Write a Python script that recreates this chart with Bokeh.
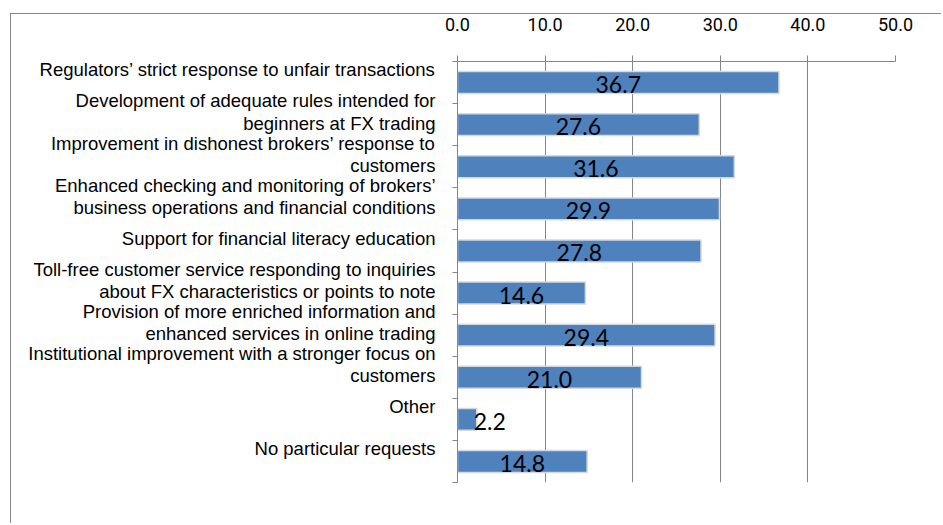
from bokeh.plotting import figure
from bokeh.models import Range1d, FixedTicker, NumeralTickFormatter, ColumnDataSource
from bokeh.core.properties import value
from bokeh.embed import file_html
from bokeh.resources import INLINE

categories = [
    "Regulators\u2019 strict response to unfair transactions",
    "Development of adequate rules intended for\nbeginners at FX trading",
    "Improvement in dishonest brokers\u2019 response to\ncustomers",
    "Enhanced checking and monitoring of brokers\u2019\nbusiness operations and financial conditions",
    "Support for financial literacy education",
    "Toll-free customer service responding to inquiries\nabout FX characteristics or points to note",
    "Provision of more enriched information and\nenhanced services in online trading",
    "Institutional improvement with a stronger focus on\ncustomers",
    "Other",
    "No particular requests",
]
values = [36.7, 27.6, 31.6, 29.9, 27.8, 14.6, 29.4, 21.0, 2.2, 14.8]
x_ticks = [0, 10, 20, 30, 40, 50]

n = len(categories)
SHIFT = 0.3  # bars sit below their label line
GRAY = "#868686"

idx = list(range(n))
bar_y = [i + SHIFT for i in idx]
inside = [v >= 5 for v in values]
lab_x = [v / 2 if ok else v for v, ok in zip(values, inside)]
lab_align = ["center" if ok else "left" for ok in inside]
lab_off = [0 if ok else -3 for ok in inside]
src = ColumnDataSource(dict(y=bar_y, v=values, lx=lab_x, la=lab_align, lo=lab_off,
                            t=[f"{v:.1f}" for v in values]))

p = figure(width=931, height=510, output_backend="svg", toolbar_location=None,
           x_axis_location="above", y_axis_location="left",
           x_range=Range1d(0, 50), y_range=Range1d(n - 0.5 + SHIFT, -0.5 + SHIFT),
           min_border_left=446, min_border_top=43, min_border_right=47, min_border_bottom=42)
p.margin = (13, 0, 0, 10)
p.styles = {"border-left": f"1px solid {GRAY}", "border-top": f"1px solid {GRAY}"}
p.outline_line_color = None
p.background_fill_color = "white"
p.border_fill_color = "white"

p.hbar(y="y", right="v", left=0, height=0.52, source=src,
       fill_color="#4F81BD", line_color="#D4D9E0", line_width=1.5)
p.text(x="lx", y="y", text="t", source=src, text_align="la", x_offset="lo",
       text_baseline="middle", y_offset=2, text_font=value("Lato"),
       text_font_size="23px", text_color="black")

# x axis (top)
xa = p.xaxis[0]
xa.ticker = FixedTicker(ticks=x_ticks)
xa.formatter = NumeralTickFormatter(format="0.0")
xa.axis_line_color = GRAY
xa.major_tick_line_color = GRAY
xa.major_tick_out = 6
xa.major_tick_in = 0
xa.minor_tick_line_color = None
xa.major_label_standoff = 25
xa.major_label_text_font = "Roboto"
xa.major_label_text_font_size = "18px"
xa.major_label_text_color = "black"

# y axis: labels on major ticks, band boundaries as minor ticks
ya = p.yaxis[0]
ya.ticker = FixedTicker(ticks=idx, minor_ticks=[i - 0.5 + SHIFT for i in range(n + 1)])
ya.major_label_overrides = {i: c for i, c in zip(idx, categories)}
ya.axis_line_color = GRAY
ya.major_tick_line_color = None
ya.major_tick_out = 0
ya.major_tick_in = 0
ya.minor_tick_line_color = GRAY
ya.minor_tick_out = 5
ya.minor_tick_in = 0
ya.major_label_standoff = 17
ya.major_label_text_font = "Liberation Sans"
ya.major_label_text_font_size = "18.5px"
ya.major_label_text_color = "black"
ya.major_label_text_line_height = 1.05

p.xgrid.ticker = FixedTicker(ticks=x_ticks)
p.xgrid.grid_line_color = GRAY
p.ygrid.grid_line_color = None

open("out.html", "w").write(file_html(p, INLINE))
